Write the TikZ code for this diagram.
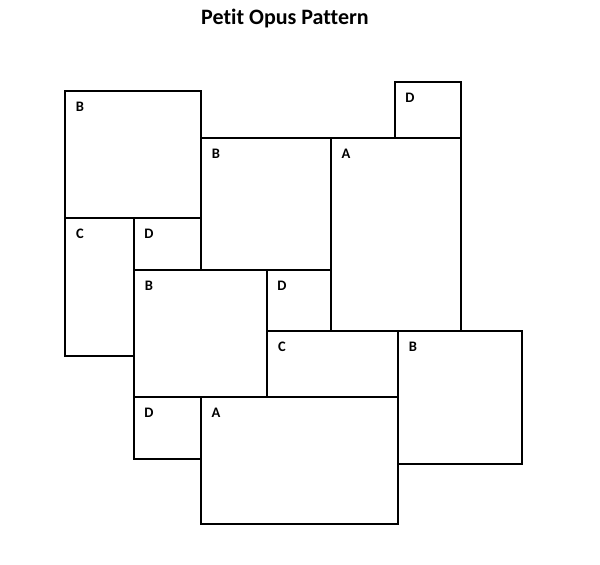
\documentclass[tikz,border=0pt]{standalone}
\usepackage{fontspec}
\setmainfont{Carlito}[Ligatures=NoCommon]
\begin{document}
\begin{tikzpicture}[x=1pt,y=-1pt,
    pieza/.style={line width=2pt,black},
    letra/.style={anchor=center,inner sep=0pt,font=\bfseries\fontsize{14.5}{16}\selectfont}]
\useasboundingbox (0,0) rectangle (600,565);
    %Titulo
    \node[font=\bfseries\fontsize{22}{26}\selectfont] (titulo) at (285,19) {Petit Opus Pattern};

    %Piezas: esquina superior izquierda / esquina inferior derecha / letra
    \foreach \xa/\ya/\xb/\yb/\l [count=\i] in {
        65/91/201/218/B, 201/138/331/270/B, 331/138/461/331/A, 395/82/461/138/D,
        65/218/134/356/C, 134/218/201/270/D, 134/270/267/397/B, 267/270/331/331/D,
        267/331/398/397/C, 398/331/522/464/B, 134/397/201/459/D, 201/397/398/524/A}{
        \draw[pieza] (\xa,\ya) rectangle (\xb,\yb);
        \node[letra] (pieza\i) at (\xa+15,\ya+16) {\l};
    }
\end{tikzpicture}
\end{document}
